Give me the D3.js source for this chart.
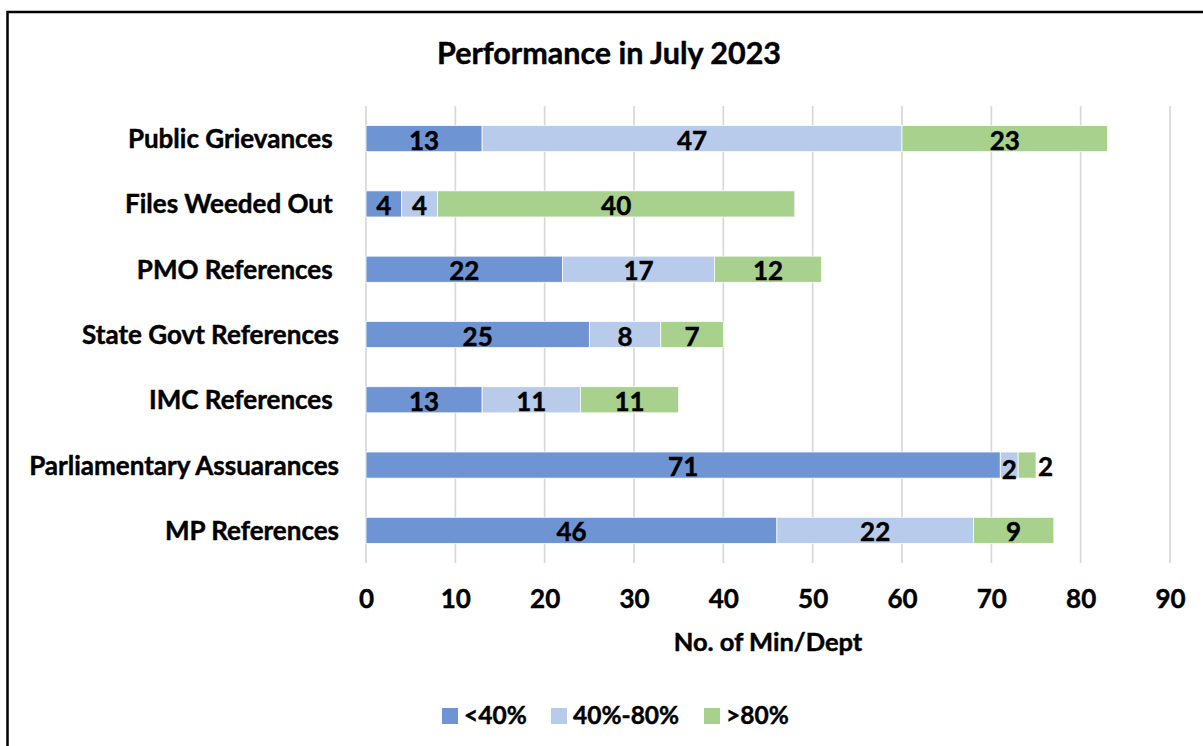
<!DOCTYPE html>
<html>
<head>
<meta charset="utf-8">
<script src="https://cdn.jsdelivr.net/npm/d3@7"></script>
<style>
  html, body { margin: 0; padding: 0; background: #fff; }
  text { font-family: Lato, "Open Sans", sans-serif; font-weight: bold; fill: #000; white-space: pre; stroke: #000; stroke-width: 0.45px; }
</style>
</head>
<body>
<svg id="chart" width="1203" height="746"></svg>
<script>
const categories = ["Public Grievances ", "Files Weeded Out ", "PMO References ", "State Govt References", "IMC References ", "Parliamentary Assuarances", "MP References"];
const seriesNames = ["<40%", "40%-80%", ">80%"];
const below40 = [13, 4, 22, 25, 13, 71, 46];
const mid40to80 = [47, 4, 17, 8, 11, 2, 22];
const above80 = [23, 40, 12, 7, 11, 2, 9];
const xTicks = [0, 10, 20, 30, 40, 50, 60, 70, 80, 90];
const colors = ["#6F94D3", "#B8CBEA", "#A8D18D"];

const svg = d3.select("#chart");
const plot = { left: 366, right: 1170, top: 106, bottom: 563 };

// outer border
svg.append("rect").attr("x", 7.5).attr("y", 12).attr("width", 1200).attr("height", 740)
  .attr("fill", "none").attr("stroke", "#000").attr("stroke-width", 2.5);

const x = d3.scaleLinear().domain([0, 90]).range([plot.left, plot.right]);
const y = d3.scaleBand().domain(categories).range([plot.top, plot.bottom]).paddingInner(0.6).paddingOuter(0.3);

// gridlines
svg.append("g").selectAll("line").data(xTicks).join("line")
  .attr("x1", d => x(d)).attr("x2", d => x(d))
  .attr("y1", plot.top).attr("y2", plot.bottom)
  .attr("stroke", "#D9D9D9").attr("stroke-width", 1.75);

// stacked data
const rows = categories.map((c, i) => ({ cat: c, s0: below40[i], s1: mid40to80[i], s2: above80[i] }));
const stack = d3.stack().keys(["s0", "s1", "s2"])(rows);

const layers = svg.append("g").selectAll("g").data(stack).join("g").attr("fill", (d, i) => colors[i]);
layers.selectAll("rect").data(d => d).join("rect")
  .attr("x", d => x(d[0])).attr("width", d => x(d[1]) - x(d[0]))
  .attr("y", d => y(d.data.cat)).attr("height", y.bandwidth())
  .attr("stroke", "#fff").attr("stroke-width", 0.75);

// data labels
const narrow = d => (x(d[1]) - x(d[0])) < 20;
stack.forEach((layer, li) => {
  const last = li === stack.length - 1;
  svg.append("g").selectAll("text").data(layer).join("text")
    .attr("x", d => (narrow(d) && last) ? x(d[1]) + 2 : (x(d[0]) + x(d[1])) / 2)
    .attr("text-anchor", d => (narrow(d) && last) ? "start" : "middle")
    .attr("y", d => y(d.data.cat) + y.bandwidth() / 2 + ((narrow(d) && !last) ? 13.5 : 11))
    .attr("font-size", 26)
    .text(d => d[1] - d[0]);
});

// category labels
svg.append("g").selectAll("text").data(categories).join("text")
  .attr("x", 339).attr("y", d => y(d) + y.bandwidth() / 2 + 9.5)
  .attr("text-anchor", "end").attr("font-size", 26)
  .text(d => d);

// x axis tick labels
const xAxis = d3.axisBottom(x).tickValues(xTicks).tickSize(0).tickPadding(0).tickFormat(d3.format("d"));
const gx = svg.append("g").attr("transform", `translate(0,${plot.bottom})`).call(xAxis);
gx.select(".domain").remove();
gx.selectAll("text").attr("font-size", 26).attr("dy", 0).attr("y", 45)
  .style("font-family", "Lato, sans-serif").style("font-weight", "bold").attr("fill", "#000");

// axis title
svg.append("text").attr("x", (plot.left + plot.right) / 2).attr("y", 651)
  .attr("text-anchor", "middle").attr("font-size", 25.5).text("No. of Min/Dept");

// title
svg.append("text").attr("x", 609).attr("y", 64).attr("text-anchor", "middle")
  .attr("font-size", 30.5).text("Performance in July 2023");

// legend
const legendX = [442, 551, 704];
const lg = svg.append("g").selectAll("g").data(seriesNames).join("g")
  .attr("transform", (d, i) => `translate(${legendX[i]},708)`);
lg.append("rect").attr("width", 16).attr("height", 16).attr("fill", (d, i) => colors[i]);
lg.append("text").attr("x", 22).attr("y", 16).attr("font-size", 24.5).text(d => d);
</script>
</body>
</html>
